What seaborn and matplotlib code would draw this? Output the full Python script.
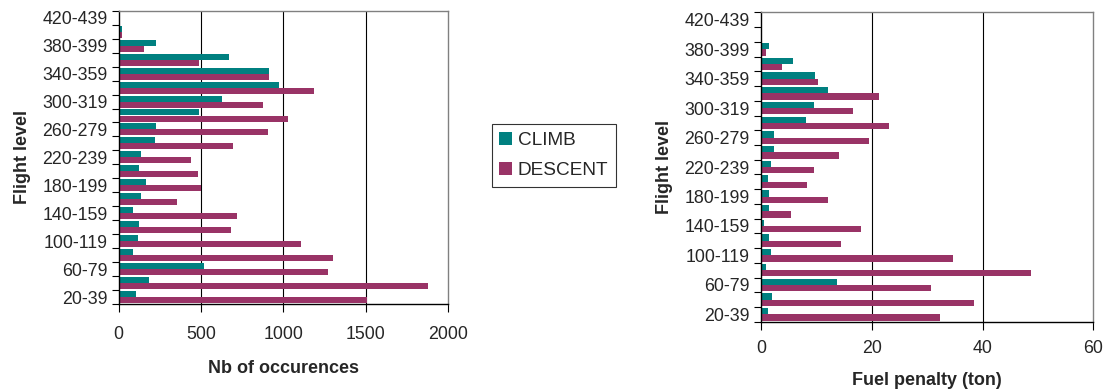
import numpy as np
import pandas as pd
import matplotlib
matplotlib.use("Agg")
import matplotlib.pyplot as plt
import matplotlib.patches as mpatches
import seaborn as sns

# Flight level bands, lowest first
levels = ["20-39", "40-59", "60-79", "80-99", "100-119", "120-139", "140-159",
          "160-179", "180-199", "200-219", "220-239", "240-259", "260-279",
          "280-299", "300-319", "320-339", "340-359", "360-379", "380-399",
          "400-419", "420-439"]

climb_occ = [105, 184, 518, 87, 117, 123, 87, 135, 166, 123, 135, 220, 226,
             487, 627, 973, 912, 669, 226, 18, 0]
descent_occ = [1505, 1877, 1270, 1300, 1106, 681, 718, 354, 499, 481, 439,
               694, 906, 1027, 876, 1185, 912, 487, 154, 18, 0]

climb_fuel = [1.3, 2.0, 13.8, 1.0, 1.9, 1.5, 0.6, 1.5, 1.5, 1.3, 1.9, 2.4,
              2.4, 8.2, 9.6, 12.1, 9.8, 5.8, 1.5, 0, 0]
descent_fuel = [32.3, 38.4, 30.7, 48.7, 34.7, 14.5, 18.1, 5.5, 12.1, 8.3,
                9.6, 14.1, 19.5, 23.1, 16.6, 21.3, 10.3, 3.8, 0.96, 0, 0]

phases = ["CLIMB", "DESCENT"]
colors = {"CLIMB": "#008080", "DESCENT": "#993366"}

occ_ticks = [0, 500, 1000, 1500, 2000]
fuel_ticks = [0, 20, 40, 60]


def long_table(climb, descent):
    return pd.DataFrame({
        "level": levels * 2,
        "phase": ["CLIMB"] * len(levels) + ["DESCENT"] * len(levels),
        "value": list(climb) + list(descent),
    })


sns.set_theme(style="white")
plt.rcParams["font.family"] = ["Liberation Sans", "DejaVu Sans"]

fig = plt.figure(figsize=(11.09, 3.92), dpi=100)
ax1 = fig.add_axes([0.107, 0.2245, 0.297, 0.748])
ax2 = fig.add_axes([0.686, 0.1793, 0.300, 0.789])

order = levels[::-1]  # highest band drawn at the top


def draw(ax, df, ticks, xlabel, tickpad, xlabelpad):
    sns.barplot(data=df, y="level", x="value", hue="phase", order=order,
                hue_order=phases, palette=colors, orient="h", width=0.86,
                gap=0, saturation=1, legend=False, ax=ax, errorbar=None,
                edgecolor="none", linewidth=0)
    ax.set_xlim(ticks[0], ticks[-1])
    ax.set_xticks(ticks)
    ax.set_xticklabels([str(t) for t in ticks], fontsize=12.8)
    ax.set_ylim(len(order) - 0.5, -0.5)
    # tick marks on category boundaries, labels on every other band
    ax.set_yticks(np.arange(-0.5, len(order), 1.0))
    ax.set_yticklabels([])
    ax.set_yticks(np.arange(0, len(order), 2), minor=True)
    ax.set_yticklabels(order[::2], minor=True, fontsize=12.8)
    ax.tick_params(axis="y", which="major", length=5, width=0.8,
                   color="black", direction="out", left=True)
    ax.tick_params(axis="y", which="minor", length=0, pad=8, left=True)
    ax.tick_params(axis="x", length=6, width=0.8, color="black",
                   direction="out", bottom=True, pad=tickpad)
    for t in ticks[1:-1]:
        ax.axvline(t, color="black", linewidth=0.8, zorder=0)
    ax.spines["left"].set_color("black")
    ax.spines["bottom"].set_color("black")
    ax.spines["top"].set_color("#808080")
    ax.spines["right"].set_color("#808080")
    for s in ax.spines.values():
        s.set_linewidth(1.0)
    ax.set_xlabel(xlabel, fontsize=13, fontweight="bold", labelpad=xlabelpad)
    ax.set_ylabel("Flight level", fontsize=13, fontweight="bold", labelpad=8)


draw(ax1, long_table(climb_occ, descent_occ), occ_ticks,
     "Nb of occurences", 10, 12)
draw(ax2, long_table(climb_fuel, descent_fuel), fuel_ticks,
     "Fuel penalty (ton)", 7, 11)

handles = [mpatches.Patch(facecolor=colors[p], edgecolor="none", label=p)
           for p in phases]
leg = fig.legend(handles=handles, loc="upper left",
                 bbox_to_anchor=(0.4434, 0.683), borderaxespad=0,
                 fontsize=13.7, frameon=True, fancybox=False,
                 handlelength=0.66, handleheight=0.66, handletextpad=0.3,
                 labelspacing=0.68, borderpad=0.4)
leg.get_frame().set_edgecolor("black")
leg.get_frame().set_linewidth(0.8)

fig.savefig("out.png", dpi=100)
